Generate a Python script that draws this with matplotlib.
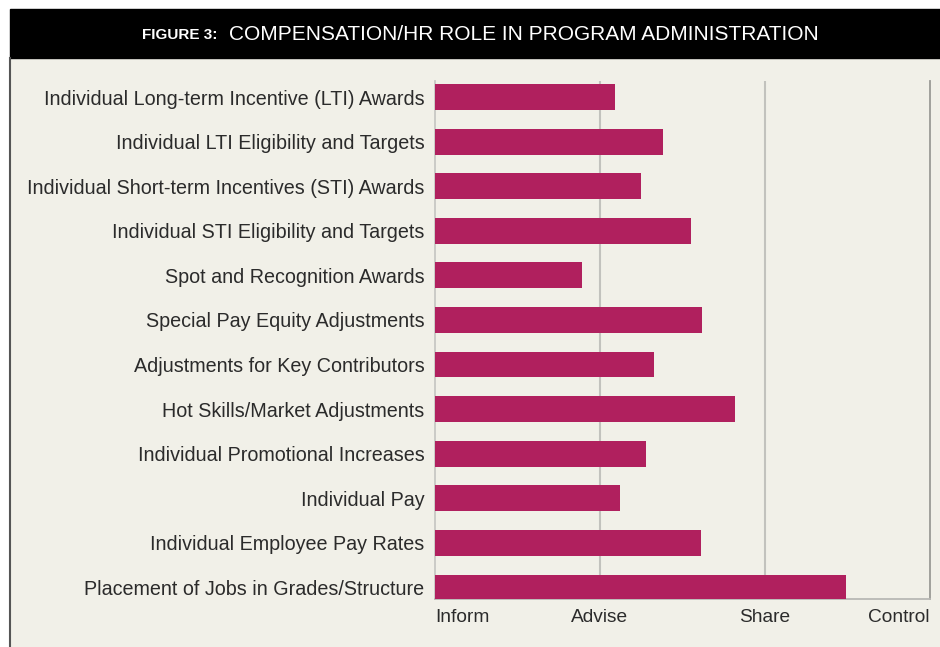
import matplotlib.pyplot as plt
from matplotlib.patches import Rectangle
from matplotlib.lines import Line2D

plt.rcParams['font.family'] = ['Liberation Sans', 'DejaVu Sans']

categories = [
    'Individual Long-term Incentive (LTI) Awards',
    'Individual LTI Eligibility and Targets',
    'Individual Short-term Incentives (STI) Awards',
    'Individual STI Eligibility and Targets',
    'Spot and Recognition Awards',
    'Special Pay Equity Adjustments',
    'Adjustments for Key Contributors',
    'Hot Skills/Market Adjustments',
    'Individual Promotional Increases',
    'Individual Pay',
    'Individual Employee Pay Rates',
    'Placement of Jobs in Grades/Structure',
]
# 0 = Inform, 1 = Advise, 2 = Share, 3 = Control
scores = [1.09, 1.38, 1.25, 1.55, 0.89, 1.62, 1.33, 1.82, 1.28, 1.12, 1.61, 2.49]
scale_labels = ['Inform', 'Advise', 'Share', 'Control']

bg = '#f1f0e8'
bar_color = '#b0205e'
text_color = '#2b2b2b'

W, H = 940, 647
fig = plt.figure(figsize=(9.4, 6.47), dpi=100)
fig.patch.set_facecolor('white')

# page background, title bar and left frame line
fig.patches.append(Rectangle((10 / W, 0), 1 - 10 / W, 1 - 58 / H,
                             transform=fig.transFigure, color=bg, zorder=-2))
fig.patches.append(Rectangle((10 / W, 1 - 58 / H), 1 - 10 / W, 49 / H,
                             transform=fig.transFigure, color='black', zorder=-2))
fig.lines.append(Line2D([10 / W, 10 / W], [0, 1 - 58 / H], transform=fig.transFigure,
                        color='#555555', lw=1.5, zorder=-1))

fig.text(217 / W, 1 - 35 / H, 'FIGURE 3:', color='white', fontsize=11,
         fontweight='bold', ha='right', va='center')
fig.text(229 / W, 1 - 34 / H, 'COMPENSATION/HR ROLE IN PROGRAM ADMINISTRATION',
         color='white', fontsize=15, ha='left', va='center')

ax = fig.add_axes([435 / W, 47.7 / H, 495 / W, 518.3 / H])
ax.set_facecolor(bg)

y = list(range(len(categories)))
ax.barh(y, scores, height=0.58, color=bar_color, zorder=3)

ax.set_xlim(0, 3)
ax.set_ylim(11.265, -0.36)
ax.set_yticks(y, categories)
ax.set_xticks([0, 1, 2, 3], scale_labels)
ax.tick_params(length=0, labelcolor=text_color)
ax.tick_params(axis='y', pad=7.5, labelsize=14.2)
ax.tick_params(axis='x', pad=7, labelsize=13.8)
for lab, ha in zip(ax.get_xticklabels(), ['left', 'center', 'center', 'right']):
    lab.set_ha(ha)

for xv in [1, 2]:
    ax.axvline(xv, color='#c2c2bd', lw=1.5, zorder=1)

ax.spines['top'].set_visible(False)
ax.spines['left'].set_color('#c8c8c4')
ax.spines['bottom'].set_color('#b8b8b4')
ax.spines['right'].set_color('#9a9a96')
for s in ['left', 'bottom', 'right']:
    ax.spines[s].set_linewidth(1.3)

fig.savefig('out.png', dpi=100, facecolor=fig.get_facecolor())
